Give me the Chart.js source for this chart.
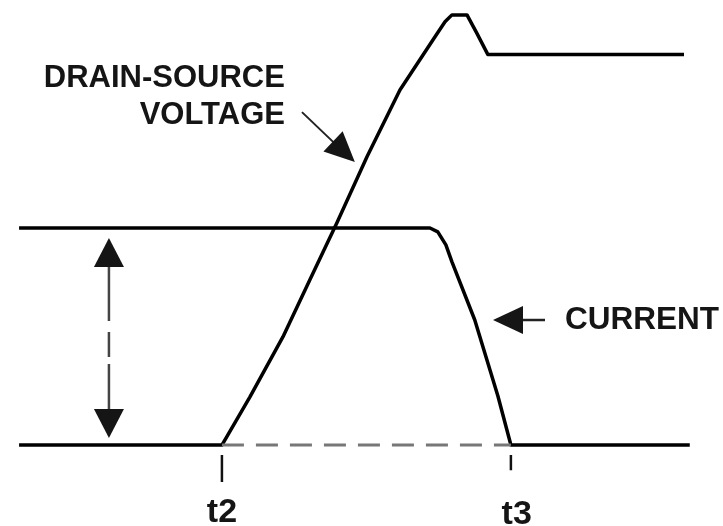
<!DOCTYPE html>
<html>
<head>
<meta charset="utf-8">
<script src="https://cdn.jsdelivr.net/npm/chart.js@4/dist/chart.umd.min.js"></script>
<style>
body{margin:0;background:#fff;}
canvas{display:block;}
</style>
</head>
<body>
<canvas id="wave" width="723" height="526"></canvas>
<script>

// time runs left to right, t2 = 0 and t3 = 10
const voltageTime  = [-7.02, 0, 0.97, 2.11, 3.04, 3.98, 5.02, 6.16, 7.30, 7.72, 7.96, 8.48, 8.82, 9.2, 15.99];
const voltageLevel = [0, 0, 11.1, 24.9, 38.0, 51.2, 66.4, 81.8, 93.3, 97.5, 99.1, 99.1, 94.9, 90, 90];

const currentTime  = [-7.02, 7.2, 7.47, 7.75, 7.96, 8.75, 9.55, 10, 16.19];
const currentLevel = [50, 50, 49.1, 46.1, 42.2, 28.8, 11.3, 0, 0];

// zero reference between the two switching instants
const refTime  = [0, 10];
const refLevel = [0, 0];

const tickValues = [0, 10];
const tickLabels = ['t2', 't3'];

function toPoints(xs, ys){
  return xs.map(function(v, i){ return {x: v, y: ys[i]}; });
}

function arrowHead(ctx, fx, fy, tx, ty, len, half){
  let a = Math.atan2(ty - fy, tx - fx);
  let bx = tx - Math.cos(a) * len;
  let by = ty - Math.sin(a) * len;
  ctx.beginPath();
  ctx.moveTo(tx, ty);
  ctx.lineTo(bx + Math.sin(a) * half, by - Math.cos(a) * half);
  ctx.lineTo(bx - Math.sin(a) * half, by + Math.cos(a) * half);
  ctx.closePath();
  ctx.fill();
}

// labels, pointers, the amplitude arrow and the t2/t3 markers
const annotate = {
  id: 'annotate',
  afterDatasetsDraw(chart){
    const ctx = chart.ctx;
    const x = chart.scales.x, y = chart.scales.y;
    const px = v => x.getPixelForValue(v);
    const py = v => y.getPixelForValue(v);

    ctx.save();
    ctx.fillStyle = '#151515';
    ctx.strokeStyle = '#222';

    // voltage caption
    ctx.font = 'bold 31px "Liberation Sans", Arial, sans-serif';
    ctx.textAlign = 'right';
    ctx.textBaseline = 'alphabetic';
    ctx.fillText('DRAIN-SOURCE', px(2.18), py(82.5));
    ctx.fillText('VOLTAGE', px(2.18), py(74.0));

    // pointer to the rising edge
    ctx.lineWidth = 2;
    ctx.beginPath();
    ctx.moveTo(px(2.77), py(76.7));
    ctx.lineTo(px(4.2), py(67.6));
    ctx.stroke();
    arrowHead(ctx, px(2.77), py(76.7), px(4.60), py(65.2), 30, 14);

    // current caption and pointer
    ctx.font = 'bold 31.5px "Liberation Sans", Arial, sans-serif';
    ctx.textAlign = 'left';
    ctx.fillText('CURRENT', px(11.87), py(26.7));
    ctx.lineWidth = 2.5;
    ctx.beginPath();
    ctx.moveTo(px(11.18), py(28.8));
    ctx.lineTo(px(10.2), py(28.8));
    ctx.stroke();
    arrowHead(ctx, px(11.18), py(28.8), px(9.38), py(28.8), 30, 14);

    // amplitude arrow between the two current levels
    let ax = px(-3.91);
    let top = py(47.7), bot = py(1.6);
    ctx.strokeStyle = '#444';
    ctx.lineWidth = 2.5;
    ctx.setLineDash([55, 11, 25, 7, 80]);
    ctx.beginPath();
    ctx.moveTo(ax, top + 28);
    ctx.lineTo(ax, bot - 28);
    ctx.stroke();
    ctx.setLineDash([]);
    arrowHead(ctx, ax, bot, ax, top, 29, 15);
    arrowHead(ctx, ax, top, ax, bot, 29, 15);

    // switching instants
    ctx.strokeStyle = '#111';
    ctx.lineWidth = 2.5;
    ctx.beginPath();
    ctx.moveTo(px(tickValues[0]), py(-2.3));
    ctx.lineTo(px(tickValues[0]), py(-8.5));
    ctx.moveTo(px(tickValues[1]), py(-2.3));
    ctx.lineTo(px(tickValues[1]), py(-5.8));
    ctx.stroke();

    ctx.font = 'bold 34px "Liberation Sans", Arial, sans-serif';
    ctx.textAlign = 'center';
    ctx.fillText(tickLabels[0], px(tickValues[0]), py(-17.7));
    ctx.fillText(tickLabels[1], px(tickValues[1] + 0.2), py(-18.2));

    ctx.restore();
  }
};

const chart = new Chart(document.getElementById('wave').getContext('2d'), {
  type: 'line',
  data: {
    datasets: [{
      label: 'reference',
      data: toPoints(refTime, refLevel),
      borderColor: '#777',
      borderWidth: 3,
      borderDash: [22, 12],
      pointRadius: 0
    }, {
      label: 'Drain-source voltage',
      data: toPoints(voltageTime, voltageLevel),
      borderColor: '#000',
      borderWidth: 3.5,
      borderJoinStyle: 'round',
      pointRadius: 0
    }, {
      label: 'Current',
      data: toPoints(currentTime, currentLevel),
      borderColor: '#000',
      borderWidth: 3.5,
      borderJoinStyle: 'round',
      pointRadius: 0
    }]
  },
  options: {
    responsive: false,
    animation: false,
    devicePixelRatio: 1,
    layout: { padding: 0 },
    scales: {
      x: { type: 'linear', display: false, min: -7.68, max: 17.34 },
      y: { type: 'linear', display: false, min: -18.66, max: 102.53 }
    },
    plugins: {
      legend: { display: false },
      tooltip: { enabled: false }
    }
  },
  plugins: [annotate]
});

</script>
</body>
</html>
